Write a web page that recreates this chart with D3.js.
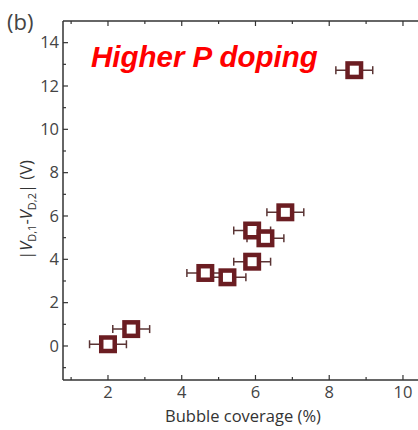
<!DOCTYPE html>
<html>
<head>
<meta charset="utf-8">
<script src="https://cdn.jsdelivr.net/npm/d3@7"></script>
<style>
  body { margin: 0; background: #fff; }
  text { font-family: "Open Sans", "Noto Sans", sans-serif; }
</style>
</head>
<body>
<div id="plot"></div>
<script>
// data
var coverage = [2.0, 2.63, 4.64, 5.24, 5.91, 5.91, 6.27, 6.81, 8.68];
var deltaV   = [0.08, 0.78, 3.37, 3.17, 3.89, 5.33, 4.97, 6.17, 12.73];
var coverageErr = [0.5, 0.5, 0.5, 0.5, 0.5, 0.5, 0.5, 0.5, 0.5];
var xTicks = [2, 4, 6, 8, 10];
var yTicks = [0, 2, 4, 6, 8, 10, 12, 14];

var W = 418, H = 430;
var margin = {top: 21, right: 0, bottom: 50, left: 63};

var svg = d3.select("#plot").append("svg")
  .attr("width", W).attr("height", H);

var x = d3.scaleLinear().domain([0.78, 10.95]).range([margin.left, margin.left + 375]);
var y = d3.scaleLinear().domain([-1.57, 15.0]).range([380, margin.top]);

var axisColor = "#333";

// frame: left, bottom, top
var g = svg.append("g");
g.append("line").attr("x1", margin.left).attr("x2", margin.left)
  .attr("y1", y.range()[1]).attr("y2", y.range()[0])
  .attr("stroke", axisColor).attr("stroke-width", 1.5);
g.append("line").attr("x1", margin.left).attr("x2", W)
  .attr("y1", y.range()[0]).attr("y2", y.range()[0])
  .attr("stroke", axisColor).attr("stroke-width", 1.5);
g.append("line").attr("x1", margin.left).attr("x2", W)
  .attr("y1", y.range()[1]).attr("y2", y.range()[1])
  .attr("stroke", axisColor).attr("stroke-width", 1.5);

// x axis ticks (inward) + top mirror ticks
var xMinor = d3.range(1, 11, 1);
xMinor.forEach(function(v) {
  var major = v % 2 === 0;
  var len = major ? 5 : 3;
  g.append("line").attr("x1", x(v)).attr("x2", x(v))
    .attr("y1", y.range()[0]).attr("y2", y.range()[0] - len)
    .attr("stroke", axisColor).attr("stroke-width", 1.2);
  g.append("line").attr("x1", x(v)).attr("x2", x(v))
    .attr("y1", y.range()[1]).attr("y2", y.range()[1] + len)
    .attr("stroke", axisColor).attr("stroke-width", 1.2);
});
g.selectAll(".xlab").data(xTicks).enter().append("text")
  .attr("x", d => x(d)).attr("y", 398)
  .attr("text-anchor", "middle").attr("font-size", 16.5).attr("fill", "#444")
  .text(d => d);

// y axis ticks (inward)
var yMinor = d3.range(-1, 15, 1);
yMinor.forEach(function(v) {
  var major = v % 2 === 0;
  var len = major ? 5 : 3;
  g.append("line").attr("x1", margin.left).attr("x2", margin.left + len)
    .attr("y1", y(v)).attr("y2", y(v))
    .attr("stroke", axisColor).attr("stroke-width", 1.2);
});
g.selectAll(".ylab").data(yTicks).enter().append("text")
  .attr("x", margin.left - 4).attr("y", d => y(d)).attr("dy", "0.35em")
  .attr("text-anchor", "end").attr("font-size", 16.5).attr("fill", "#444")
  .text(d => d);

// axis titles
svg.append("text").attr("x", 243).attr("y", 422)
  .attr("text-anchor", "middle").attr("font-size", 16.5).attr("fill", "#333")
  .text("Bubble coverage (%)");

var yl = svg.append("text")
  .attr("transform", "translate(32,210) rotate(-90)")
  .attr("text-anchor", "middle").attr("font-size", 16.5).attr("fill", "#333");
yl.append("tspan").text("|");
yl.append("tspan").attr("font-style", "italic").text("V");
yl.append("tspan").attr("font-size", 11).attr("dy", 4).text("D,1");
yl.append("tspan").attr("dy", -4).text("-");
yl.append("tspan").attr("font-style", "italic").text("V");
yl.append("tspan").attr("font-size", 11).attr("dy", 4).text("D,2");
yl.append("tspan").attr("dy", -4).text("| (V)");

// panel label and annotation
svg.append("text").attr("x", 7).attr("y", 30)
  .attr("font-size", 22).attr("fill", "#444").text("(b)");
svg.append("text").attr("x", 91).attr("y", 67)
  .style("font-family", "'Liberation Sans', Arial, sans-serif")
  .attr("font-size", 29.5).attr("font-weight", "bold").attr("font-style", "italic")
  .attr("fill", "#ff0000").text("Higher P doping");

// points with x error bars
var pts = coverage.map((c, i) => ({x: c, y: deltaV[i], e: coverageErr[i]}));
var errColor = "#5a3434";
var eb = svg.append("g").selectAll("g").data(pts).enter().append("g");
eb.append("line")
  .attr("x1", d => x(d.x - d.e)).attr("x2", d => x(d.x + d.e))
  .attr("y1", d => y(d.y)).attr("y2", d => y(d.y))
  .attr("stroke", errColor).attr("stroke-width", 1.5);
eb.append("line")
  .attr("x1", d => x(d.x - d.e)).attr("x2", d => x(d.x - d.e))
  .attr("y1", d => y(d.y) - 4).attr("y2", d => y(d.y) + 4)
  .attr("stroke", errColor).attr("stroke-width", 1.5);
eb.append("line")
  .attr("x1", d => x(d.x + d.e)).attr("x2", d => x(d.x + d.e))
  .attr("y1", d => y(d.y) - 4).attr("y2", d => y(d.y) + 4)
  .attr("stroke", errColor).attr("stroke-width", 1.5);

var s = 13.5;
svg.append("g").selectAll("rect").data(pts).enter().append("rect")
  .attr("x", d => x(d.x) - s / 2).attr("y", d => y(d.y) - s / 2)
  .attr("width", s).attr("height", s)
  .attr("fill", "#fff").attr("stroke", "#6b1d22").attr("stroke-width", 4.5);
</script>
</body>
</html>
